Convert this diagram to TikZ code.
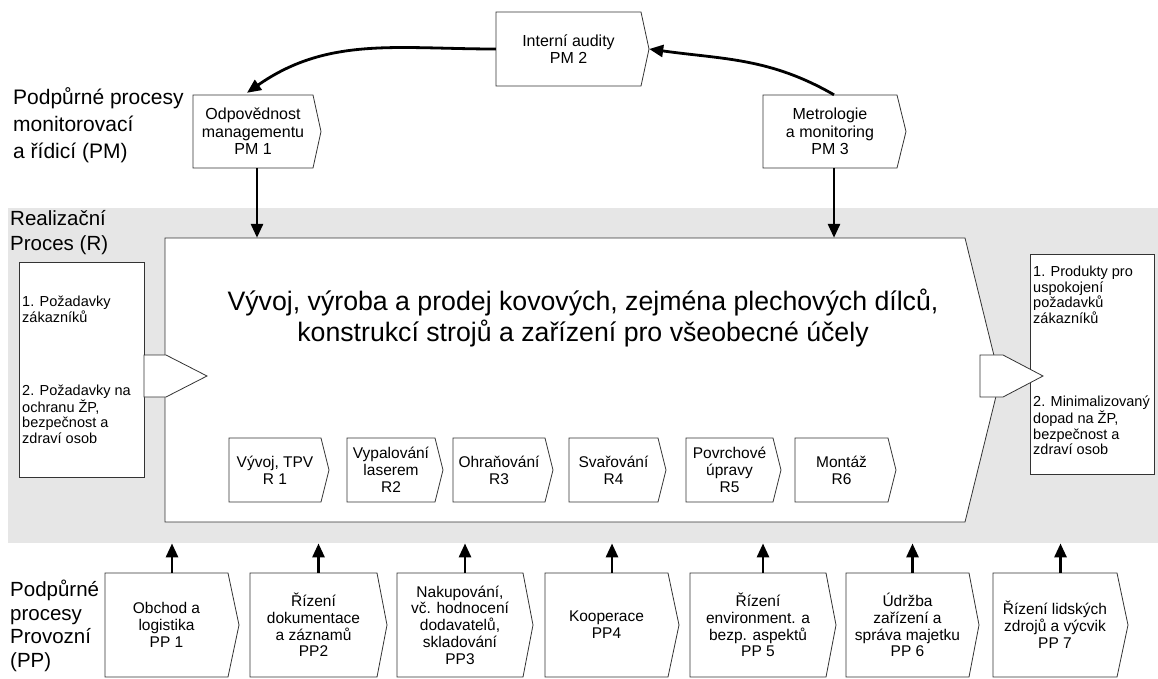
\documentclass[tikz,border=0pt]{standalone}
\usepackage{fontspec}
\setmainfont{Liberation Sans}
\usetikzlibrary{arrows.meta}
\definecolor{bandgray}{HTML}{E6E6E6}
\definecolor{edge}{HTML}{333333}
% chevron box: [extra style]{name}{x1}{y1}{x2}{y2}{point depth}{text}
\newcommand\chevbox[8][]{%
  \draw[boxline] (#3,-#4) -- (#5,-#4) -- ({#5+#7},{-(#4+#6)/2}) -- (#5,-#6) -- (#3,-#6) -- cycle;
  \node[boxtext, #1, minimum width={#5-#3}, minimum height={#6-#4}] (#2) at ({(#3+#5)/2},{-(#4+#6)/2}) {#8};
}
\begin{document}
\begin{tikzpicture}[x=1pt,y=1pt,
  boxline/.style={draw=edge, line width=0.8pt, fill=white},
  boxtext/.style={inner sep=0pt, align=center, font=\fontsize{15.5}{16.8}\selectfont},
  pmtext/.style={font=\fontsize{16}{17.5}\selectfont},
  sidetext/.style={inner sep=0pt, align=left, anchor=north west, font=\fontsize{14.5}{15.5}\selectfont},
  grouplabel/.style={inner sep=0pt, align=left, anchor=north west},
  flow/.style={-{Triangle[length=14pt,width=12pt]}, line width=2.8pt, black},
]
\useasboundingbox (0,0) rectangle (1158,-678);

% grey band of the realisation process
\node[fill=bandgray, inner sep=0pt, minimum width=1150, minimum height=335, anchor=north west] (band) at (8,-208) {};

% group labels
\node[grouplabel, font=\fontsize{21}{27}\selectfont] (lblpm) at (13,-87) {Podpůrné procesy\\monitorovací\\a řídicí (PM)};
\node[grouplabel, font=\fontsize{20.5}{25}\selectfont] (lblr) at (10,-210) {Realizační\\Proces (R)};
\node[grouplabel, font=\fontsize{20.5}{23.5}\selectfont] (lblpp) at (10,-580) {Podpůrné\\procesy\\Provozní\\(PP)};

% main process
\chevbox{main}{165}{238}{965}{522}{35}{}
\node[inner sep=0pt, align=center, font=\fontsize{26.7}{31}\selectfont] (title) at (583,-318)
  {Vývoj, výroba a prodej kovových, zejména plechových dílců,\\konstrukcí strojů a zařízení pro všeobecné účely};

% inputs
\node[boxline, inner sep=0pt, minimum width=125, minimum height=215, anchor=north west] (inbox) at (19,-262) {};
\node[sidetext] (in1) at (22,-296) {1. Požadavky\\zákazníků};
\node[sidetext] (in2) at (22,-385) {2. Požadavky na\\ochranu ŽP,\\bezpečnost a\\zdraví osob};
\draw[boxline] (144,-355) -- (166,-355) -- (207,-376) -- (166,-397) -- (144,-397) -- cycle;

% outputs
\node[boxline, inner sep=0pt, minimum width=124, minimum height=220, anchor=north west] (outbox) at (1030,-254) {};
\node[sidetext] (out1) at (1033,-266) {1. Produkty pro\\uspokojení\\požadavků\\zákazníků};
\node[sidetext] (out2) at (1033,-396) {2. Minimalizovaný\\dopad na ŽP,\\bezpečnost a\\zdraví osob};
\draw[boxline] (980,-355) -- (1003,-355) -- (1043,-376) -- (1003,-397) -- (980,-397) -- cycle;

% realisation steps
\chevbox{r1}{229}{438}{321}{502}{8}{Vývoj, TPV\\R 1}
\chevbox{r2}{347}{438}{435}{502}{8}{Vypalování\\laserem\\R2}
\chevbox{r3}{453}{438}{545}{502}{8}{Ohraňování\\R3}
\chevbox{r4}{569}{438}{658}{502}{8}{Svařování\\R4}
\chevbox{r5}{686}{438}{773}{502}{8}{Povrchové\\úpravy\\R5}
\chevbox{r6}{795}{438}{888}{502}{8}{Montáž\\R6}

% monitoring processes
\chevbox[pmtext]{pm2}{496}{12}{641}{86}{8}{Interní audity\\PM 2}
\chevbox[pmtext]{pm1}{193}{95}{313}{168}{8}{Odpovědnost\\managementu\\PM 1}
\chevbox[pmtext]{pm3}{763}{95}{897}{168}{9}{Metrologie\\a monitoring\\PM 3}

\draw[flow] (pm2.west) to[out=180,in=35] ([xshift=-6pt,yshift=2pt]pm1.north);
\draw[flow] ([xshift=4pt]pm3.north) to[out=150,in=-8] ([xshift=8pt]pm2.east);
\draw[flow] ([xshift=4pt]pm1.south) -- ([xshift=4pt]pm1.south |- main.north);
\draw[flow] ([xshift=4pt]pm3.south) -- ([xshift=4pt]pm3.south |- main.north);

% operating support processes
\chevbox{pp1}{105}{573}{228}{677}{11}{Obchod a\\logistika\\PP 1}
\chevbox{pp2}{250}{573}{377}{677}{10}{Řízení\\dokumentace\\a záznamů\\PP2}
\chevbox{pp3}{397}{573}{523}{677}{10}{Nakupování,\\vč. hodnocení\\dodavatelů,\\skladování\\PP3}
\chevbox{pp4}{545}{573}{668}{677}{11}{Kooperace\\PP4}
\chevbox{pp5}{690}{573}{826}{677}{10}{Řízení\\environment. a\\bezp. aspektů\\PP 5}
\chevbox{pp6}{846}{573}{969}{677}{10}{Údržba\\zařízení a\\správa majetku\\PP 6}
\chevbox{pp7}{993}{573}{1117}{677}{11}{Řízení lidských\\zdrojů a výcvik\\PP 7}

\foreach \p/\d in {pp1/5.5,pp2/5,pp3/5,pp4/5.5,pp5/5,pp6/5,pp7/5.5}
  \draw[flow] ([xshift=\d pt]\p.north) -- ([xshift=\d pt]\p.north |- band.south);
\end{tikzpicture}
\end{document}
